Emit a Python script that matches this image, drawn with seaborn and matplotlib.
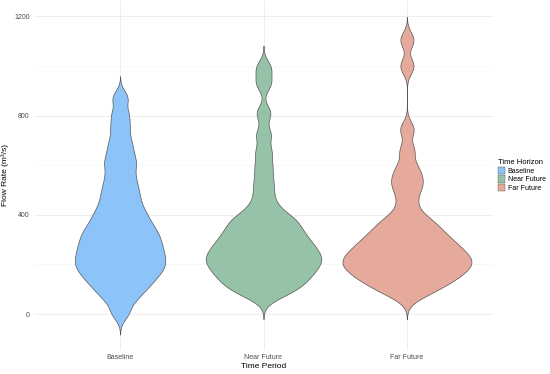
import pandas as pd
import matplotlib
matplotlib.use("Agg")
import matplotlib.pyplot as plt
import matplotlib.patches as mpatches
import seaborn as sns

baseline = [4, 53, 80, 101, 119, 134, 149, 162, 174, 185, 197, 208, 218, 228,
            242, 253, 264, 276, 288, 301, 314, 326, 339, 354, 370, 387, 405, 425,
            448, 474, 499, 528, 559, 596, 623, 660, 700, 752, 805, 872]
near_future = [70, 90, 104, 117, 129, 140, 152, 162, 172, 182, 191, 200, 208, 217,
               225, 234, 242, 251, 260, 270, 280, 290, 301, 312, 324, 337, 350, 365,
               378, 392, 412, 445, 492, 541, 596, 655, 725, 810, 930, 992]
far_future = [72, 92, 110, 121, 132, 143, 153, 162, 171, 179, 187, 195, 202, 209,
              216, 224, 232, 240, 248, 257, 266, 275, 285, 296, 307, 319, 332, 346,
              363, 380, 402, 450, 498, 528, 558, 595, 660, 745, 1000, 1105]

periods = ["Baseline", "Near Future", "Far Future"]
colors = ["#8cc4fa", "#96c3a8", "#e6aa9d"]
yticks = [0, 400, 800, 1200]

df = pd.DataFrame({
    "period": ["Baseline"] * len(baseline) + ["Near Future"] * len(near_future)
              + ["Far Future"] * len(far_future),
    "flow": baseline + near_future + far_future,
})

plt.rcParams["font.family"] = ["Liberation Sans", "DejaVu Sans"]
fig = plt.figure(figsize=(5.5, 3.74), dpi=100)
ax = fig.add_axes([34 / 550, 1 - 350 / 374, 459 / 550, 349 / 374])

# common_norm so each violin keeps equal area (hue == x otherwise fills full width)
sns.violinplot(data=df, x="period", y="flow", hue="period", order=periods,
               hue_order=periods, palette=colors, cut=3, inner=None, width=0.9,
               linewidth=0.5, linecolor="#555555", saturation=1, bw_adjust=0.28,
               common_norm=True, legend=False, ax=ax)

ax.set_ylim(-145, 1262)
ax.set_xlim(-0.6, 2.6)
ax.set_yticks(yticks)
ax.set_yticks([200, 600, 1000], minor=True)
ax.grid(True, which="major", color="#ebebeb", linewidth=0.6)
ax.grid(True, which="minor", axis="y", color="#f4f4f4", linewidth=0.4)
ax.set_axisbelow(True)
for s in ax.spines.values():
    s.set_visible(False)
ax.tick_params(length=0, labelsize=5, labelcolor="#4d4d4d", pad=3)
ax.tick_params(which="minor", length=0)
ax.set_xlabel("Time Period", fontsize=6, labelpad=1)
ax.set_ylabel("Flow Rate (m³/s)", fontsize=6, labelpad=4)

handles = [mpatches.Patch(facecolor=c, edgecolor="#555555", linewidth=0.3, label=p)
           for p, c in zip(periods, colors)]
leg = ax.legend(handles=handles, title="Time Horizon", loc="center left",
                bbox_to_anchor=(1.0, 0.5), frameon=False, fontsize=5,
                title_fontsize=5.5, handlelength=1.0, handleheight=1.2,
                handletextpad=0.4, labelspacing=0.1, borderaxespad=0.3)
leg._legend_box.align = "left"

fig.savefig("out.png", dpi=100)
